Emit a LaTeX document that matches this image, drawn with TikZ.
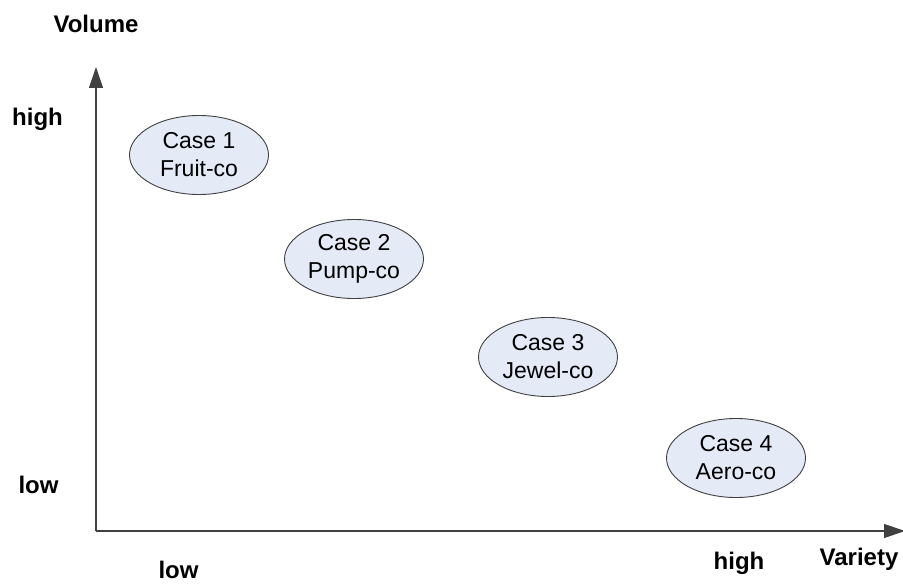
\documentclass[tikz,border=0pt]{standalone}
\usepackage{fontspec}
\setmainfont{Liberation Sans}
\usetikzlibrary{arrows.meta,shapes.geometric}
\definecolor{casefill}{HTML}{E4EAF6}
\definecolor{caseline}{HTML}{404040}
\tikzset{
  casenode/.style={ellipse, draw=caseline, line width=0.9pt, fill=casefill,
    minimum width=139pt, minimum height=79pt, inner sep=0pt,
    align=center, font=\fontsize{23}{28}\selectfont},
  axislabel/.style={inner sep=0pt, font=\bfseries\fontsize{24}{28}\selectfont},
  axisline/.style={line width=1.2pt, draw=black!75, -{Triangle[length=21pt,width=14pt]}}
}
\begin{document}
\begin{tikzpicture}[x=1pt,y=-1pt]
\useasboundingbox (0,0) rectangle (903,586);
\coordinate (origin) at (96,531);
\coordinate (ytip) at (96,67);
\coordinate (xtip) at (905,531);
\draw[axisline] (origin) -- (ytip);
\draw[axisline] (origin) -- (xtip);

\node[axislabel] (vol) at (96,24) {Volume};
\node[axislabel] (yhigh) at (37.5,119.5) {high};
\node[axislabel] (ylow) at (38.5,485) {low};
\node[axislabel] (xlow) at (178.5,570) {low};
\node[axislabel] (xhigh) at (739,563.5) {high};
\node[axislabel] (var) at (859,559) {Variety};

\node[casenode] (c1) at (199,155) {Case 1\\Fruit-co};
\node[casenode] (c2) at (354,259) {Case 2\\Pump-co};
\node[casenode] (c3) at (548,357) {Case 3\\Jewel-co};
\node[casenode] (c4) at (736,458) {Case 4\\Aero-co};
\end{tikzpicture}
\end{document}
